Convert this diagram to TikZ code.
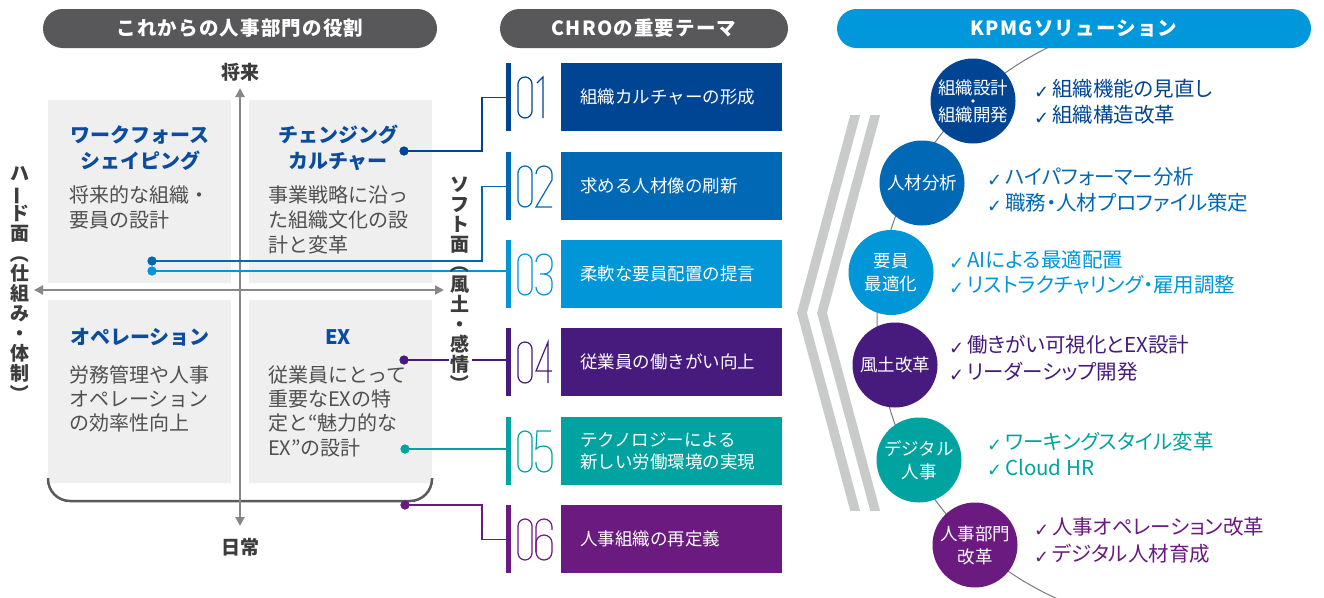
\documentclass[tikz,border=0pt]{standalone}
\usepackage{graphicx}
\usepackage{fontspec}
\setmainfont{Noto Sans CJK JP}
\newfontfamily\dvfont{DejaVu Sans}
\usetikzlibrary{arrows.meta}
\definecolor{hdr}{HTML}{58585A}
\definecolor{kpmgblue}{HTML}{0098DA}
\definecolor{cA}{HTML}{004494}
\definecolor{cB}{HTML}{0068B5}
\definecolor{cC}{HTML}{0096D8}
\definecolor{cD}{HTML}{461B7D}
\definecolor{cE}{HTML}{00A3A0}
\definecolor{cF}{HTML}{6B1A80}
\definecolor{qgray}{HTML}{EFEFEF}
\definecolor{axgray}{HTML}{878787}
\definecolor{txtgray}{HTML}{505050}
\definecolor{lblgray}{HTML}{3C3C3C}
\definecolor{qblue}{HTML}{0B4C9E}
\definecolor{chev}{HTML}{C9CACA}
\definecolor{arcgray}{HTML}{7A7A7A}
\definecolor{brk}{HTML}{5A5A5A}
\newcommand\chkmk{\makebox[18pt][l]{\raisebox{-1.5pt}{\dvfont\fontsize{18}{18}\selectfont ✓}}}
\newcommand\vbar{\rotatebox[origin=c]{90}{ー}}
\newcommand\vlp{\rotatebox[origin=c]{-90}{（}}
\newcommand\vrp{\rotatebox[origin=c]{-90}{）}}
\newcommand\tightls{\lineskiplimit-100pt\relax}
\newcommand\spacedpill{\addfontfeature{LetterSpace=6}}
\newcommand\paltfeat{\addfontfeature{RawFeature=+palt}}
\tikzset{
  pics/dz/.style={code={\draw[rounded corners=7pt] (0,0) rectangle (14,41);}},
  pics/done/.style={code={\draw (1,6) -- (7,0) -- (7,41);}},
  pics/dtwo/.style={code={\draw (0,8) arc[start angle=180,end angle=360,radius=8] -- (16,14) -- (0,41) -- (16,41);}},
  pics/dthree/.style={code={\draw (0,8) arc[start angle=180,end angle=360,radius=8] -- (16,12) arc[start angle=0,end angle=90,radius=8] -- (4,20); \draw (8,20) arc[start angle=-90,end angle=0,radius=8] -- (16,33) arc[start angle=0,end angle=180,radius=8];}},
  pics/dfour/.style={code={\draw (12,41) -- (12,0) -- (0,29) -- (16,29);}},
  pics/dfive/.style={code={\draw (15,0) -- (1,0) -- (0,18) .. controls (2,15.5) and (5,15) .. (8,15) arc[start angle=-90,end angle=0,radius=8] -- (16,33) arc[start angle=0,end angle=180,radius=8] -- (0,31);}},
  pics/dsix/.style={code={\draw[rounded corners=8pt] (0,16) rectangle (16,41); \draw (0,33) -- (0,8) arc[start angle=180,end angle=360,radius=8] -- (16,11);}},
}
\begin{document}
\begin{tikzpicture}[x=1pt,y=-1pt,
  pill/.style={rounded corners=19.5pt, minimum height=39pt, inner sep=0pt, text=white, font={\bfseries\fontsize{19.5}{20}\selectfont\spacedpill}},
  qbox/.style={fill=qgray, minimum width=183pt, minimum height=183pt, inner sep=0pt, anchor=north west},
  qtitle/.style={text=qblue, font={\bfseries\fontsize{20}{20}\selectfont}, inner sep=0pt},
  qdesc/.style={text=txtgray, font={\fontsize{20}{20}\selectfont}, inner sep=0pt, anchor=west},
  axislabel/.style={text=lblgray, font={\bfseries\fontsize{19}{19}\selectfont}, inner sep=0pt},
  vlabel/.style={text=lblgray, font={\bfseries\fontsize{19}{20}\selectfont\tightls}, align=center, inner sep=0pt},
  axisline/.style={draw=axgray, line width=2pt},
  dot/.style={circle, fill=#1, minimum size=9pt, inner sep=0pt},
  conn/.style={draw=#1, line width=1.3pt},
  numbar/.style={fill=#1, minimum width=5pt, minimum height=68pt, inner sep=0pt, anchor=north west},
  theme/.style={fill=#1, text=white, minimum width=221pt, minimum height=68pt, inner xsep=19pt, inner ysep=0pt, text width=183pt, align=left, anchor=north west, font={\fontsize{17.5}{22}\selectfont}},
  sol/.style={circle, fill=#1, text=white, minimum size=85pt, inner sep=0pt, align=center, font={\fontsize{17.5}{23}\selectfont\tightls}},
  item/.style={text=#1, inner sep=0pt, anchor=west, font={\fontsize{20.5}{20.5}\selectfont\paltfeat}},
  chevline/.style={draw=chev, line width=9.5pt, line join=miter},
  digit/.style={color=#1, line width=1.2pt}
]
\useasboundingbox (0,0) rectangle (1324,597);
\fill[white] (0,0) rectangle (1324,597);

% ---------------- left quadrant ----------------
\node[qbox] (qTL) at (48,100) {};
\node[qbox] (qTR) at (249,100) {};
\node[qbox] (qBL) at (48,300) {};
\node[qbox] (qBR) at (249,300) {};

\draw[draw=brk, line width=2.5pt, rounded corners=22pt] (48,478) -- (48,501) -- (432,501) -- (432,478);

\node[axislabel] (future) at (240,72) {将来};
\node[axislabel] (daily) at (240,547) {日常};
\coordinate (vt) at (240,88);
\coordinate (vb) at (240,526);
\coordinate (hl) at (34,290);
\coordinate (hr) at (444,290);
\draw[axisline, {Triangle[length=9pt,width=9pt]}-{Triangle[length=9pt,width=9pt]}] (vt) -- (vb);
\draw[axisline, {Triangle[length=9pt,width=9pt]}-{Triangle[length=9pt,width=9pt]}] (hl) -- (hr);

\node[qtitle] (t1a) at (140,135) {ワークフォース};
\node[qtitle] (t1b) at (140,161) {シェイピング};
\node[qdesc] (d1a) at (69,195) {将来的な組織・};
\node[qdesc] (d1b) at (69,220) {要員の設計};

\node[qtitle] (t2a) at (338,135) {チェンジング};
\node[qtitle] (t2b) at (338,161) {カルチャー};
\node[qdesc] (d2a) at (268,195) {事業戦略に沿っ};
\node[qdesc] (d2b) at (268,220) {た組織文化の設};
\node[qdesc] (d2c) at (268,245) {計と変革};

\node[qtitle] (t3a) at (140,337) {オペレーション};
\node[qdesc] (d3a) at (69,375) {労務管理や人事};
\node[qdesc] (d3b) at (69,399) {オペレーション};
\node[qdesc] (d3c) at (69,423) {の効率性向上};

\node[qtitle] (t4a) at (338,337) {EX};
\node[qdesc] (d4a) at (268,375) {従業員にとって};
\node[qdesc] (d4b) at (268,399) {重要なEXの特};
\node[qdesc] (d4c) at (268,423) {定と“魅力的な};
\node[qdesc] (d4d) at (268,448) {EX”の設計};

% ---------------- middle column ----------------
\node[numbar=cA] (bar1) at (506,63) {};
\node[numbar=cB] (bar2) at (506,152) {};
\node[numbar=cC] (bar3) at (506,240) {};
\node[numbar=cD] (bar4) at (506,328) {};
\node[numbar=cE] (bar5) at (506,417) {};
\node[numbar=cF] (bar6) at (506,505) {};

\node[theme=cA] (th1) at (561,63) {組織カルチャーの形成};
\node[theme=cB] (th2) at (561,152) {求める人材像の刷新};
\node[theme=cC] (th3) at (561,240) {柔軟な要員配置の提言};
\node[theme=cD] (th4) at (561,328) {従業員の働きがい向上};
\node[theme=cE] (th5) at (561,417) {テクノロジーによる\\新しい労働環境の実現};
\node[theme=cF] (th6) at (561,505) {人事組織の再定義};

\pic[digit=cA] at (518,77) {dz};  \pic[digit=cA] at (536,77) {done};
\pic[digit=cB] at (518,166) {dz}; \pic[digit=cB] at (536,166) {dtwo};
\pic[digit=cC] at (518,254) {dz}; \pic[digit=cC] at (536,254) {dthree};
\pic[digit=cD] at (518,342) {dz}; \pic[digit=cD] at (536,342) {dfour};
\pic[digit=cE] at (518,431) {dz}; \pic[digit=cE] at (536,431) {dfive};
\pic[digit=cF] at (518,519) {dz}; \pic[digit=cF] at (536,519) {dsix};

\node[dot=cA] (dt1) at (404,151) {};
\node[dot=cB] (dt2) at (152,261) {};
\node[dot=cC] (dt3) at (152,271) {};
\node[dot=cD] (dt4) at (404,360) {};
\node[dot=cE] (dt5) at (405,449) {};
\node[dot=cF] (dt6) at (405,505) {};

\draw[conn=cA] (dt1.center) -- (482,151) |- (bar1.west);
\draw[conn=cB] (dt2.center) -- (482,261) |- (bar2.west);
\draw[conn=cC] (dt3.center) -- (dt3 -| bar3.west);
\draw[conn=cD] (dt4.center) -- (dt4 -| bar4.west);
\draw[conn=cE] (dt5.center) -- (dt5 -| bar5.west);
\draw[conn=cF] (dt6.center) -- (482,505) |- (bar6.west);
\fill[white] (449,355) rectangle (472,365);

\node[dot=cA] at (dt1) {};
\node[dot=cB] at (dt2) {};
\node[dot=cC] at (dt3) {};
\node[dot=cD] at (dt4) {};
\node[dot=cE] at (dt5) {};
\node[dot=cF] at (dt6) {};

\node[vlabel] (hard) at (20,285) {ハ\\\vbar\\ド\\面\\\vlp\\仕\\組\\み\\・\\体\\制\\\vrp};
\node[vlabel] (soft) at (460,285) {ソ\\フ\\ト\\面\\\vlp\\風\\土\\・\\感\\情\\\vrp};

% ---------------- right column ----------------
\begin{scope}
  \clip (700,48) rectangle (1180,597);
  \draw[draw=arcgray, line width=1pt] (1181,321) circle[radius=304];
\end{scope}
\begin{scope}
  \clip (780,115) rectangle (900,510);
  \draw[chevline] (870,60) -- (802,313) -- (870,566);
  \draw[chevline] (890,60) -- (822,313) -- (890,566);
\end{scope}

\node[sol=cA, font={\fontsize{17.5}{27}\selectfont\tightls}] (s1) at (973,101) {組織設計\\組織開発};
\fill[white] (s1.center) circle[radius=1.8];
\node[sol=cB] (s2) at (922,183) {人材分析};
\node[sol=cC] (s3) at (891,272.5) {要員\\最適化};
\node[sol=cD] (s4) at (895,365) {風土改革};
\node[sol=cE] (s5) at (919,460) {デジタル\\人事};
\node[sol=cF] (s6) at (975,545) {人事部門\\改革};

\node[item=cA] (i1a) at (1034,89) {\chkmk 組織機能の見直し};
\node[item=cA] (i1b) at (1034,115) {\chkmk 組織構造改革};
\node[item=cB] (i2a) at (987,177) {\chkmk ハイパフォーマー分析};
\node[item=cB] (i2b) at (987,203) {\chkmk 職務・人材プロファイル策定};
\node[item=cC] (i3a) at (949,260) {\chkmk AIによる最適配置};
\node[item=cC] (i3b) at (949,285) {\chkmk リストラクチャリング・雇用調整};
\node[item=cD] (i4a) at (949,345) {\chkmk 働きがい可視化とEX設計};
\node[item=cD] (i4b) at (949,372) {\chkmk リーダーシップ開発};
\node[item=cE] (i5a) at (987,442) {\chkmk ワーキングスタイル変革};
\node[item=cE] (i5b) at (987,468) {\chkmk Cloud HR};
\node[item=cF] (i6a) at (1034,527) {\chkmk 人事オペレーション改革};
\node[item=cF] (i6b) at (1034,554) {\chkmk デジタル人材育成};

% ---------------- headers ----------------
\node[pill, fill=hdr, minimum width=394pt] (h1) at (240,28.5) {これからの人事部門の役割};
\node[pill, fill=hdr, minimum width=288pt] (h2) at (644,28.5) {CHROの重要テーマ};
\node[pill, fill=kpmgblue, minimum width=474pt] (h3) at (1074,28.5) {KPMGソリューション};
\end{tikzpicture}
\end{document}
